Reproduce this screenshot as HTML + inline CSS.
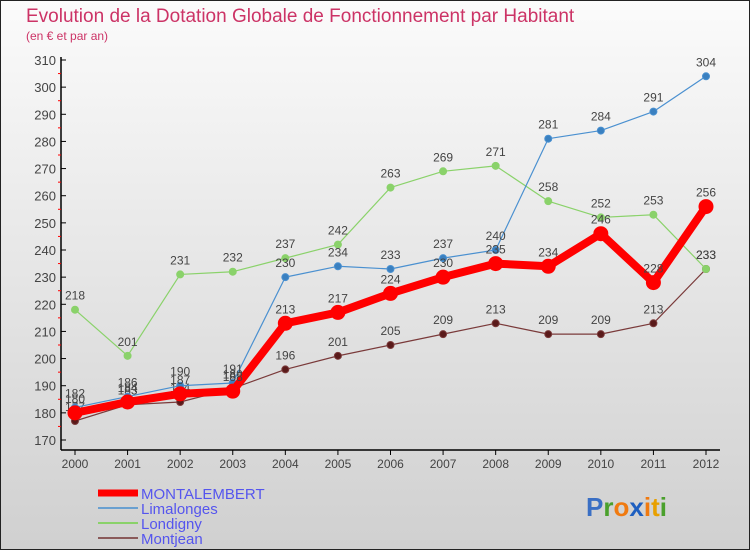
<!DOCTYPE html>
<html><head><meta charset="utf-8"><style>
body{margin:0;width:750px;height:550px;overflow:hidden;font-family:"Liberation Sans",sans-serif}
svg text{font-family:"Liberation Sans",sans-serif}
</style></head><body>
<svg id="c" width="750" height="550" xmlns="http://www.w3.org/2000/svg">
<defs><linearGradient id="bg" x1="0" y1="0" x2="0" y2="1"><stop offset="0" stop-color="#fbfbfb"/><stop offset="1" stop-color="#d0d0d0"/></linearGradient></defs>
<rect x="0.5" y="0.5" width="749" height="549" fill="url(#bg)" stroke="#222"/>
<text x="26" y="22" font-size="19" fill="#cc3366">Evolution de la Dotation Globale de Fonctionnement par Habitant</text>
<text x="26" y="40" font-size="12" fill="#cc3366">(en € et par an)</text>
<g id="axes"></g><g id="series"></g><g id="legend"></g>
<text x="586" y="516" font-size="26" font-weight="bold"><tspan fill="#3a6fc4">P</tspan><tspan fill="#4aa02c">r</tspan><tspan fill="#f07a10">o</tspan><tspan fill="#1e5fc0">x</tspan><tspan fill="#f07a10">i</tspan><tspan fill="#e8a000">t</tspan><tspan fill="#4aa02c">i</tspan></text>
</svg>
<script>
const years=[2000,2001,2002,2003,2004,2005,2006,2007,2008,2009,2010,2011,2012];
const montalembert=[180,184,187,188,213,217,224,230,235,234,246,228,256];
const limalonges=[182,186,190,191,230,234,233,237,240,281,284,291,304];
const londigny=[218,201,231,232,237,242,263,269,271,258,252,253,233];
const montjean=[177,183,184,189,196,201,205,209,213,209,209,213,233];
const yTicks=[170,180,190,200,210,220,230,240,250,260,270,280,290,300,310];
const NS="http://www.w3.org/2000/svg";
const X=i=>75+(706-75)*(years[i]-2000)/(2012-2000);
const Y=v=>440-(v-170)*(440-60)/(310-170);
function mk(tag,attrs,parent){const e=document.createElementNS(NS,tag);for(const k in attrs)e.setAttribute(k,attrs[k]);parent.appendChild(e);return e;}
const ax=document.getElementById('axes');
let yl=mk('line',{x1:61,y1:57,x2:61,y2:450,stroke:'#000','stroke-width':1.5},ax);


let xl=mk('line',{x1:61,y1:450,x2:720,y2:450,stroke:'#000','stroke-width':1.5},ax);


yTicks.forEach(v=>{
 mk('line',{x1:61,y1:Y(v),x2:66,y2:Y(v),stroke:'#000'},ax);
 if(v<310)mk('line',{x1:58,y1:Y(v+5),x2:61,y2:Y(v+5),stroke:'#f00'},ax);
 const t=mk('text',{x:56,y:Y(v)+5,'font-size':13,'text-anchor':'end',fill:'#444'},ax);t.textContent=v;
 
 
});
years.forEach((y,i)=>{
 mk('line',{x1:X(i),y1:450,x2:X(i),y2:455,stroke:'#000'},ax);
 const t=mk('text',{x:X(i),y:468,'font-size':12,'text-anchor':'middle',fill:'#444'},ax);t.textContent=y;
 
 
});
const sg=document.getElementById('series');
function draw(data,color,w,r,dot,name,labels){
 const g=mk('g',{},sg);
 
 
 mk('polyline',{points:data.map((v,i)=>X(i)+','+Y(v)).join(' '),fill:'none',stroke:color,'stroke-width':w,'stroke-linejoin':'round'},g);
 data.forEach((v,i)=>{
  const c=mk('circle',{cx:X(i),cy:Y(v),r:r,fill:dot,stroke:color,'stroke-width':1},g);
  
  
  if(labels){const t=mk('text',{x:X(i),y:Y(v)-10,'font-size':12,'text-anchor':'middle',fill:'#444'},g);t.textContent=v;
  
  }
 });
}
draw(montjean,'#7a3a3a',1.2,3.5,'#5a1a1a','montjean',true);
draw(londigny,'#8ad26a',1.2,3.5,'#8ad26a','londigny',true);
draw(limalonges,'#4a90d0',1.2,3.5,'#3a80c0','limalonges',true);
draw(montalembert,'#f00',8,7,'#f00','montalembert',true);
const lg=document.getElementById('legend');
[['MONTALEMBERT','#f00',7],['Limalonges','#6aa0d0',2],['Londigny','#8ad26a',2],['Montjean','#8a5a5a',2]].forEach((d,i)=>{
 const y=493+i*15;
 const g=mk('g',{},lg);
 
 
 mk('line',{x1:98,y1:y,x2:138,y2:y,stroke:d[1],'stroke-width':d[2]},g);
 const t=mk('text',{x:141,y:y+6,'font-size':15,fill:'#5555ee'},g);t.textContent=d[0];
});
</script>
</body></html>
